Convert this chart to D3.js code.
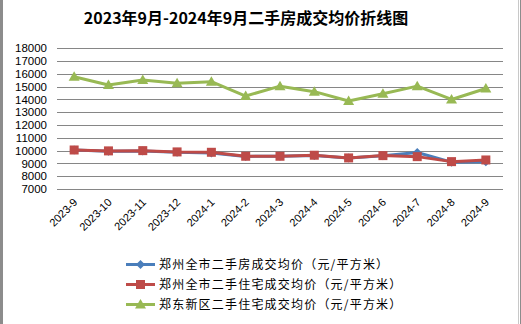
<!DOCTYPE html>
<html><head><meta charset="utf-8">
<script src="https://cdn.jsdelivr.net/npm/d3@7"></script>
<style>body{margin:0;background:#fff;}svg{display:block;}</style>
</head><body>
<svg id="c" width="521" height="324"></svg>
<script>
const categories = ["2023-9","2023-10","2023-11","2023-12","2024-1","2024-2","2024-3","2024-4","2024-5","2024-6","2024-7","2024-8","2024-9"];
const cityHouse = [10050,9950,9980,9870,9820,9550,9570,9620,9420,9600,9850,9100,9130];
const cityResidence = [10050,9980,10000,9900,9870,9560,9560,9640,9430,9610,9530,9140,9270];
const zhengdong = [15780,15130,15520,15260,15390,14270,15040,14610,13880,14440,15040,14000,14860];
const yTicks = [7000,8000,9000,10000,11000,12000,13000,14000,15000,16000,17000,18000];
const seriesNames = ["郑州全市二手房成交均价（元/平方米）","郑州全市二手住宅成交均价（元/平方米）","郑东新区二手住宅成交均价（元/平方米）"];
const title = "2023年9月-2024年9月二手房成交均价折线图";

const svg = d3.select("#c");
const W = 521, H = 324;
const font = "'Liberation Sans', Arial, 'Noto Sans CJK SC', sans-serif";

// frame
svg.append("rect").attr("x",0).attr("y",0).attr("width",3).attr("height",H).attr("fill","#8c8c8c");
svg.append("line").attr("x1",518.5).attr("x2",518.5).attr("y1",0).attr("y2",H).attr("stroke","#c8c8c8");
svg.append("line").attr("x1",520.5).attr("x2",520.5).attr("y1",0).attr("y2",H).attr("stroke","#8c8c8c");

svg.append("text").attr("x",246).attr("y",24).attr("text-anchor","middle")
  .attr("font-family","'Noto Sans CJK SC', sans-serif").attr("font-weight","bold")
  .attr("font-size",16).attr("fill","#000").text(title);

const x = d3.scaleBand().domain(categories).range([57,503]);
const y = d3.scaleLinear().domain([7000,18000]).range([189,48.3]);

// gridlines
svg.append("g").selectAll("line").data(yTicks).join("line")
  .attr("x1",57).attr("x2",503)
  .attr("y1",d=>Math.round(y(d))+0.5).attr("y2",d=>Math.round(y(d))+0.5)
  .attr("stroke","#868686").attr("stroke-width",1);

// y axis labels
const yAxis = d3.axisLeft(y).tickValues(yTicks).tickSize(0).tickPadding(0).tickFormat(d3.format("d"));
const ga = svg.append("g").attr("transform","translate(47,0)").call(yAxis);
ga.select(".domain").remove();
ga.selectAll("text").attr("font-family",font).attr("font-size",11.5).attr("fill","#000");

// x axis labels
const xAxis = d3.axisBottom(x).tickSize(0).tickPadding(0);
const gx = svg.append("g").attr("transform","translate(0,189)").call(xAxis);
gx.select(".domain").remove();
gx.selectAll("text").attr("font-family",font).attr("font-size",11).attr("fill","#000")
  .attr("text-anchor","end").attr("dy",0).attr("y",0)
  .attr("transform","translate(4,14) rotate(-45)");

const line = d3.line().x((d,i)=>x(categories[i])+x.bandwidth()/2).y(d=>y(d));
const colors = ["#4a7ebb","#be4b48","#98b954"];
const data = [cityHouse, cityResidence, zhengdong];

function marker(g, type, cx, cy, color){
  if(type===0){
    g.append("path").attr("d",`M${cx},${cy-4.5}L${cx+4.5},${cy}L${cx},${cy+4.5}L${cx-4.5},${cy}Z`).attr("fill",color);
  } else if(type===1){
    g.append("rect").attr("x",cx-4.5).attr("y",cy-4.5).attr("width",9).attr("height",9).attr("fill",color);
  } else {
    g.append("path").attr("d",`M${cx},${cy-5.5}L${cx+5.5},${cy+4}L${cx-5.5},${cy+4}Z`).attr("fill",color);
  }
}

// draw in order: green, blue, red (red on top of blue)
[2,0,1].forEach(k=>{
  const g = svg.append("g");
  g.append("path").datum(data[k]).attr("d",line).attr("fill","none")
    .attr("stroke",colors[k]).attr("stroke-width",3).attr("stroke-linejoin","round");
  data[k].forEach((v,i)=>marker(g,k,x(categories[i])+x.bandwidth()/2,y(v),colors[k]));
});

// legend
const ly = [264.5,284.5,304.5];
seriesNames.forEach((n,k)=>{
  const g = svg.append("g");
  g.append("line").attr("x1",126).attr("x2",155).attr("y1",ly[k]).attr("y2",ly[k])
    .attr("stroke",colors[k]).attr("stroke-width",3);
  marker(g,k,140.5,ly[k],colors[k]);
  g.append("text").attr("x",159).attr("y",ly[k]+4.5)
    .attr("font-family","'Noto Sans CJK SC', sans-serif").attr("font-size",12)
    .attr("letter-spacing",1.2).attr("fill","#000").text(n);
});
</script>
</body></html>
